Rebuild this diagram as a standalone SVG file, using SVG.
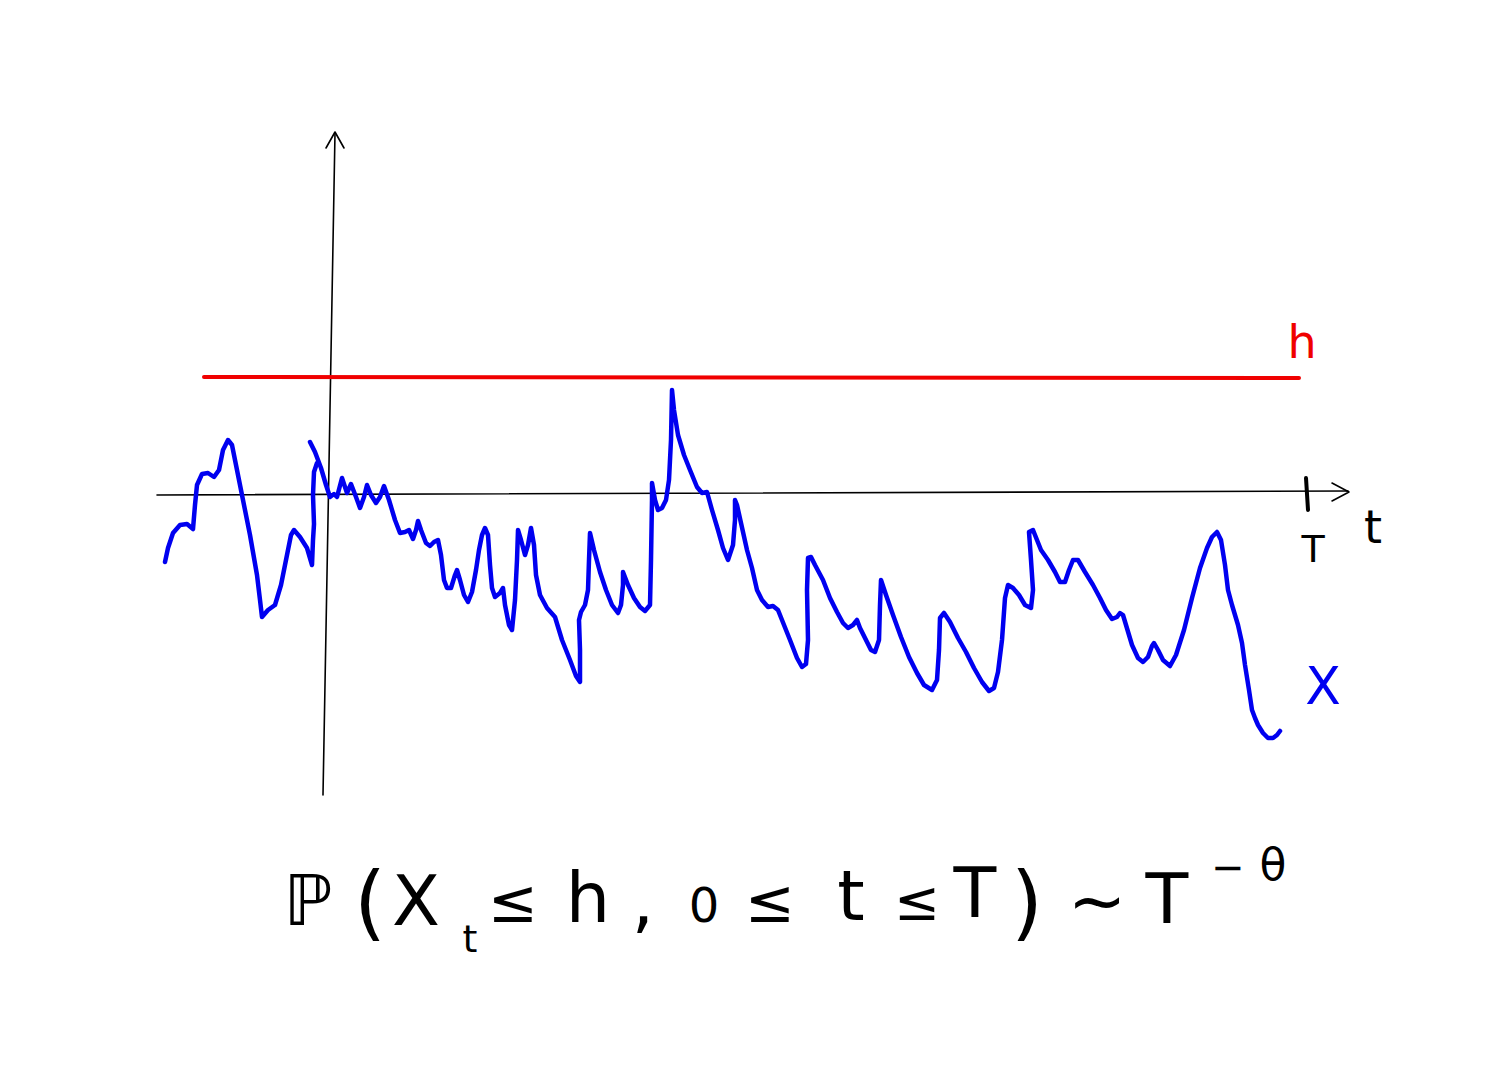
<svg xmlns="http://www.w3.org/2000/svg" width="1512" height="1086" viewBox="0 0 1512 1086">
<style>
.axis{fill:none;stroke:#000;stroke-width:1.6;stroke-linecap:round;stroke-linejoin:round}
.ink{fill:none;stroke:#000;stroke-width:4;stroke-linecap:round;stroke-linejoin:round}
.path{fill:none;stroke:#0000f0;stroke-width:4.5;stroke-linecap:round;stroke-linejoin:round}
.lvl{fill:none;stroke:#f00000;stroke-width:4;stroke-linecap:round}
.f{font-family:"DejaVu Sans","Liberation Sans",sans-serif;fill:#000;text-anchor:middle}
</style>
<rect width="1512" height="1086" fill="#fff"/>
<g id="axes">
<line class="axis" x1="157" y1="495" x2="1348" y2="491"/>
<polyline class="axis" points="1332,483 1349,492 1332,501"/>
<line class="axis" x1="323" y1="795" x2="335" y2="133"/>
<polyline class="axis" points="326,148 335,132 344,148"/>
<line class="ink" x1="1306" y1="478" x2="1308" y2="510" stroke-width="3.5"/>
</g>
<g id="level-h">
<line class="lvl" x1="204" y1="377" x2="1299" y2="378"/>
<text class="f" x="1302" y="358" font-size="46" style="fill:#f00000">h</text>
</g>
<g id="process-X">
<path class="path" d="M165,562 L168,548 L173,533 L180,525 L187,524 L193,529 L195,505 L197,485 L202,474 L208,473 L214,477 L219,470 L223,450 L228,440 L232,445 L236,465 L242,495 L250,535 L257,575 L260,600 L262,617 L268,610 L275,605 L281,585 L287,555 L291,535 L294,530 L300,537 L307,548 L312,565 L313,540 L314,524 L313,495 L314,472 L317,463"/>
<path class="path" d="M310,442 L315,452 L321,468 L326,485 L330,497 L334,494 L337,497 L342,478 L347,493 L351,484 L356,497 L360,508 L364,497 L367,485 L371,495 L376,503 L380,497 L384,486 L389,500 L395,520 L400,533 L405,532 L409,530 L413,539 L416,530 L418,521 L421,530 L426,543 L430,546 L434,542 L438,540 L441,555 L444,580 L447,588 L451,588 L455,575 L457,570 L460,580 L464,595 L468,602 L472,592 L476,570 L479,550 L482,535 L485,528 L488,535 L490,565 L492,588 L495,597 L500,593 L503,588 L505,605 L509,625 L512,630 L515,600 L517,560 L518,530 L521,540 L525,555 L528,545 L531,528 L534,545 L536,575 L540,595 L547,608 L555,617 L562,640 L570,660 L576,676 L580,682 L580,650 L579,620 L581,612 L585,605 L588,590 L589,560 L590,533 L594,550 L600,572 L606,590 L612,605 L618,613 L621,605 L623,585 L623,572 L628,585 L634,598 L640,607 L645,611 L650,605 L651,560 L652,500 L652,483 L655,500 L658,510 L662,508 L666,500 L669,480 L671,440 L672,390 L674,410 L678,435 L684,455 L690,470 L697,487 L702,493 L707,492 L712,510 L718,530 L723,548 L728,560 L733,545 L735,520 L735,500 L737,505 L741,523 L747,550 L752,568 L757,590 L762,600 L768,607 L773,606 L778,610 L784,625 L790,640 L797,658 L802,667 L806,664 L808,640 L807,590 L808,558 L811,557 L815,565 L823,580 L830,598 L837,612 L843,623 L848,628 L853,625 L857,620 L860,628 L866,640 L871,650 L875,652 L879,640 L880,605 L881,580 L886,595 L893,615 L901,637 L909,657 L917,673 L924,685 L932,690 L937,680 L939,650 L940,618 L944,613 L950,622 L958,638 L966,652 L974,668 L982,682 L989,691 L994,688 L998,672 L1002,640 L1005,598 L1008,585 L1013,588 L1019,595 L1025,605 L1031,608 L1033,590 L1031,560 L1029,532 L1033,530 L1037,540 L1041,550 L1048,560 L1055,572 L1060,582 L1065,582 L1069,570 L1073,560 L1078,560 L1085,572 L1093,585 L1100,598 L1106,610 L1112,619 L1117,617 L1120,613 L1123,615 L1126,625 L1132,645 L1138,658 L1143,662 L1148,657 L1152,646 L1154,643 L1158,650 L1163,660 L1170,666 L1176,655 L1184,630 L1192,598 L1200,568 L1207,548 L1212,537 L1217,532 L1221,540 L1225,565 L1228,590 L1232,605 L1238,625 L1242,643 L1245,665 L1249,690 L1252,710 L1255,718 L1258,725 L1263,733 L1268,738 L1273,738 L1277,735 L1280,731"/>
<text class="f" x="1323" y="704" font-size="52" style="fill:#0000f0">X</text>
</g>
<g id="labels">
<text class="f" x="1373" y="543" font-size="46">t</text>
<text class="f" x="1313" y="562" font-size="38">T</text>
</g>
<g id="formula">
<text class="f" x="308" y="925" font-size="70">ℙ</text>
<text class="f" x="370" y="930" font-size="82">(</text>
<text class="f" x="416" y="925" font-size="70">X</text>
<text class="f" x="470" y="952" font-size="38">t</text>
<text class="f" x="513" y="922" font-size="60">≤</text>
<text class="f" x="588" y="922" font-size="70">h</text>
<text class="f" x="643" y="925" font-size="70">,</text>
<text class="f" x="704" y="922" font-size="48">0</text>
<text class="f" x="770" y="922" font-size="60">≤</text>
<text class="f" x="851" y="920" font-size="70">t</text>
<text class="f" x="917" y="920" font-size="55">≤</text>
<text class="f" x="975" y="917" font-size="70">T</text>
<text class="f" x="1027" y="930" font-size="82">)</text>
<text class="f" x="1097" y="925" font-size="70">~</text>
<text class="f" x="1167" y="923" font-size="70">T</text>
<text class="f" x="1228" y="881" font-size="40">−</text>
<text class="f" x="1273" y="880" font-size="44">θ</text>
</g>
</svg>
